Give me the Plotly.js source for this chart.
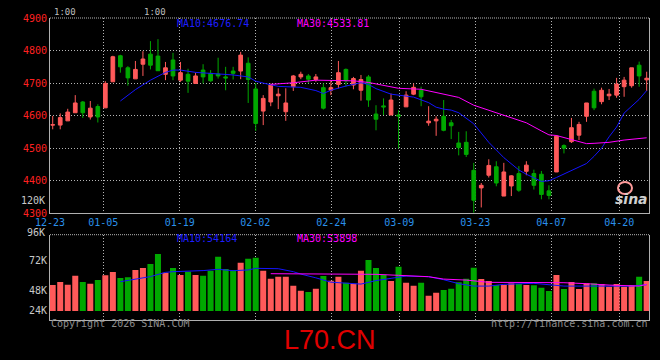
<!DOCTYPE html>
<html>
<head>
<meta charset="utf-8">
<script src="https://cdn.plot.ly/plotly-3.0.1.min.js"></script>
<style>
html,body{margin:0;padding:0;background:#000;}
#chart{width:660px;height:360px;}
</style>
</head>
<body>
<div id="chart"></div>
<script>
// ---- data ----
var openP  = [4571,4571,4584,4609,4642,4596,4628,4624,4704,4784,
              4747,4713,4758,4789,4783,4727,4771,4709,4727,4699,
              4740,4730,4728,4719,4737,4737,4761,4682,4614,4642,
              4661,4612,4689,4719,4722,4711,4686,4678,4696,4742,
              4694,4678,4719,4605,4630,4602,4602,4627,4666,4678,
              4578,4584,4598,4578,4516,4518,4432,4378,4417,4443,
              4353,4384,4422,4429,4422,4420,4369,4427,4508,4520,
              4540,4598,4675,4643,4661,4663,4689,4692,4755,4710];
var highP  = [4599,4607,4621,4663,4645,4645,4635,4706,4784,4787,
              4752,4768,4798,4829,4835,4765,4793,4765,4744,4732,
              4758,4740,4778,4750,4750,4796,4779,4700,4663,4699,
              4684,4684,4725,4735,4728,4728,4699,4709,4768,4745,
              4719,4725,4725,4632,4653,4668,4617,4675,4699,4689,
              4629,4598,4648,4587,4550,4552,4455,4393,4466,4460,
              4455,4417,4445,4460,4434,4430,4386,4540,4512,4593,
              4581,4639,4683,4686,4682,4716,4719,4747,4766,4735];
var lowP   = [4558,4558,4584,4609,4593,4588,4579,4624,4704,4732,
              4692,4713,4722,4742,4738,4709,4709,4704,4670,4699,
              4699,4704,4714,4678,4711,4712,4639,4553,4571,4629,
              4620,4584,4676,4712,4699,4704,4619,4663,4684,4689,
              4681,4646,4627,4555,4602,4602,4499,4627,4663,4629,
              4569,4538,4552,4528,4478,4473,4302,4318,4410,4383,
              4353,4353,4366,4417,4373,4343,4343,4427,4484,4516,
              4525,4581,4617,4635,4648,4655,4658,4686,4689,4676];
var closeP = [4572,4594,4611,4639,4609,4623,4596,4699,4781,4750,
              4716,4742,4774,4755,4738,4747,4722,4732,4706,4722,
              4719,4707,4722,4716,4730,4786,4711,4576,4653,4694,
              4666,4639,4722,4727,4712,4719,4623,4686,4732,4707,
              4714,4711,4648,4589,4627,4648,4599,4663,4687,4658,
              4583,4589,4555,4569,4502,4481,4340,4386,4447,4393,
              4427,4415,4371,4448,4386,4358,4355,4537,4500,4563,
              4573,4639,4624,4678,4666,4697,4709,4747,4722,4715];
// volume in thousands
var volK = [52.2,54.6,52.5,59.7,54.6,53.3,56.2,60.0,62.6,57.8,
            58.4,64.2,65.8,69.0,77.0,62.0,65.8,60.2,62.9,60.2,
            59.7,63.7,74.9,65.0,64.2,70.1,73.3,74.1,63.7,57.3,
            58.9,58.9,51.7,47.7,46.6,49.3,59.4,55.7,58.9,54.1,
            53.3,63.7,72.2,65.8,60.5,55.4,66.9,54.1,51.7,54.1,
            43.7,46.1,48.2,49.3,54.4,57.3,66.1,57.0,55.4,52.2,
            52.2,53.6,53.0,52.2,52.0,50.1,47.4,60.2,49.0,54.6,
            49.0,53.6,53.6,53.0,50.9,53.0,50.9,52.0,58.9,55.4];
// moving average lines as read (candle index, value)
var ma10Idx = [9,11,13,15,16,17,19,21,23,24,26,27,28,30,33,35,36,37,39,41,42,43,45,47,48,50,51,52,53,54,56,58,60,62,63,65,66,67,69,71,72,73,74,75,76,77,78,79];
var ma10Val = [4645,4680,4709,4733,4740,4740,4733,4730,4726,4725,4719,4706,4700,4690,4687,4677,4668,4678,4691,4701,4696,4683,4666,4660,4657,4640,4626,4620,4617,4609,4575,4518,4471,4433,4420,4398,4400,4410,4432,4453,4475,4500,4535,4565,4608,4630,4650,4677];
var ma30Idx = [29,32,35,38,40,42,44,46,49,51,52,54,56,58,60,63,65,66,67,69,71,72,74,76,79];
var ma30Val = [4696,4701,4709,4709,4707,4702,4694,4684,4681,4671,4667,4656,4632,4617,4600,4578,4553,4541,4539,4527,4514,4515,4518,4525,4532];
var vma10Idx = [9,11,13,15,16,20,22,24,26,27,30,32,33,35,37,41,43,45,47,50,52,54,56,58,60,64,66,68,72,77,79];
var vma10Val = [54.9,57.1,59.0,62.4,62.9,63.8,64.8,63.7,64.3,65.6,65.3,62.9,61.0,58.0,54.5,53.0,55.8,57.6,59.4,58.9,56.5,53.3,51.4,51.4,52.8,53.6,52.8,51.4,51.4,51.4,52.5];
var vma30Idx = [29,37,43,46,50,52,55,58,63,68,71,74,78,79];
var vma30Val = [61.3,60.8,60.8,60.0,58.9,57.0,56.2,54.4,54.1,54.1,53.3,52.2,51.4,52.8];
// axis ticks
var dateTickIdx = [-0.35,6.73,16.89,26.94,37.05,46.1,56.2,66.3,75.36];
var dateTickText = ['12-23','01-05','01-19','02-02','02-24','03-09','03-23','04-07','04-20'];
var priceTicks = [4300,4400,4500,4600,4700,4800,4900];
var volTickVals = [72,48,32];
var volTickText = ['72K','48K','24K'];
var volGridVals = [44.4,60.2,76.2];
var volBase = 31.4;
var maText = ['MA10:4676.74','MA30:4533.81'];
var vmaText = ['MA10:54164','MA30:53898'];

// ---- styles ----
var RED = '#ff5a5a', GREEN = '#00a800', GRID = '#b4b4b4', AXIS = '#b0b0b0';
var MONO = 'DejaVu Sans Mono';
var idx = openP.map(function(_, i){ return i; });
var volColors = idx.map(function(i){ return closeP[i] >= openP[i] ? RED : GREEN; });

var traces = [
  {type:'candlestick', x:idx, open:openP, high:highP, low:lowP, close:closeP,
   xaxis:'x', yaxis:'y', whiskerwidth:0,
   increasing:{line:{color:RED,width:1}, fillcolor:RED},
   decreasing:{line:{color:GREEN,width:1}, fillcolor:GREEN},
   hoverinfo:'skip'},
  {type:'scatter', mode:'lines', x:ma10Idx, y:ma10Val, xaxis:'x', yaxis:'y',
   line:{color:'#1414ff', width:1}, hoverinfo:'skip'},
  {type:'scatter', mode:'lines', x:ma30Idx, y:ma30Val, xaxis:'x', yaxis:'y',
   line:{color:'#ff00ff', width:1}, hoverinfo:'skip'},
  {type:'bar', x:idx, y:volK.map(function(v){ return v - volBase; }), base:volBase,
   xaxis:'x2', yaxis:'y2', marker:{color:volColors, line:{width:0}}, hoverinfo:'skip'},
  {type:'scatter', mode:'lines', x:vma10Idx, y:vma10Val, xaxis:'x2', yaxis:'y2',
   line:{color:'#1414ff', width:1}, hoverinfo:'skip'},
  {type:'scatter', mode:'lines', x:vma30Idx, y:vma30Val, xaxis:'x2', yaxis:'y2',
   line:{color:'#ff00ff', width:1}, hoverinfo:'skip'}
];

var xr = [-0.36, 79.35];
var xDom = [50/660, 649.3/660];
function py(p){ return (360 - p) / 360; }
function px(p){ return p / 660; }

var layout = {
  width:660, height:360,
  margin:{l:0, r:0, t:0, b:0},
  paper_bgcolor:'#000', plot_bgcolor:'#000',
  showlegend:false, hovermode:false, bargap:0.2, boxgap:0.3,
  xaxis:{domain:xDom, range:xr, tickmode:'array', tickvals:dateTickIdx, ticktext:dateTickText,
    showgrid:true, gridcolor:GRID, griddash:'1px,2px', gridwidth:1, zeroline:false,
    showline:true, linecolor:AXIS, linewidth:1, ticks:'', rangeslider:{visible:false},
    tickfont:{family:MONO, size:10, color:'#2a90ea'}, anchor:'y', fixedrange:true},
  yaxis:{domain:[py(213.3), py(18)], range:[4300, 4900], tickmode:'array', tickvals:priceTicks,
    ticktext:priceTicks.map(String), showgrid:true, gridcolor:GRID, griddash:'1px,2px',
    zeroline:false, showline:true, linecolor:AXIS, linewidth:1, mirror:true, ticks:'',
    tickfont:{family:MONO, size:10, color:'#ff2020'}, anchor:'x', fixedrange:true},
  xaxis2:{domain:xDom, range:xr, tickmode:'array', tickvals:dateTickIdx, showticklabels:false,
    showgrid:true, gridcolor:GRID, griddash:'1px,2px', zeroline:false,
    showline:true, linecolor:AXIS, linewidth:1, ticks:'', anchor:'y2', fixedrange:true},
  yaxis2:{domain:[py(319.7), py(234.7)], range:[24.5, 92.5], tickmode:'array', tickvals:volTickVals,
    ticktext:volTickText, showgrid:false, zeroline:false, showline:true, linecolor:AXIS,
    linewidth:1, mirror:true, ticks:'', tickfont:{family:MONO, size:10, color:'#c8c8c8'},
    anchor:'x2', fixedrange:true},
  yaxis3:{domain:[py(319.7), py(234.7)], range:[24.5, 92.5], overlaying:'y2', anchor:'x2',
    tickmode:'array', tickvals:volGridVals, showticklabels:false, showgrid:true,
    gridcolor:GRID, griddash:'1px,2px', zeroline:false, showline:false, ticks:'', fixedrange:true},
  shapes:[
    {type:'line', xref:'x domain', yref:'y domain', x0:0, x1:1, y0:1, y1:1,
     line:{color:GRID, width:1, dash:'1px,1px'}},
    {type:'line', xref:'x2 domain', yref:'y2 domain', x0:0, x1:1, y0:1, y1:1,
     line:{color:GRID, width:1, dash:'1px,1px'}},
    {type:'circle', xref:'paper', yref:'paper', x0:px(618), x1:px(632), y0:py(194), y1:py(182),
     line:{color:'#ff9c9c', width:2}}
  ],
  annotations:[
    {text:maText[0], xref:'paper', yref:'paper', x:px(175), y:py(24), xanchor:'left', yanchor:'middle',
     showarrow:false, font:{family:MONO, size:10, color:'#1e1eff'}},
    {text:maText[1], xref:'paper', yref:'paper', x:px(295), y:py(24), xanchor:'left', yanchor:'middle',
     showarrow:false, font:{family:MONO, size:10, color:'#ff00ff'}},
    {text:vmaText[0], xref:'paper', yref:'paper', x:px(175), y:py(238.5), xanchor:'left', yanchor:'middle',
     showarrow:false, font:{family:MONO, size:10, color:'#1e1eff'}},
    {text:vmaText[1], xref:'paper', yref:'paper', x:px(295), y:py(238.5), xanchor:'left', yanchor:'middle',
     showarrow:false, font:{family:MONO, size:10, color:'#ff00ff'}},
    {text:'1:00', xref:'paper', yref:'paper', x:px(52), y:py(12), xanchor:'left', yanchor:'middle',
     showarrow:false, font:{family:MONO, size:9, color:'#bdbdbd'}},
    {text:'1:00', xref:'paper', yref:'paper', x:px(142), y:py(12), xanchor:'left', yanchor:'middle',
     showarrow:false, font:{family:MONO, size:9, color:'#bdbdbd'}},
    {text:'120K', xref:'paper', yref:'paper', x:px(46.5), y:py(200), xanchor:'right', yanchor:'middle',
     showarrow:false, font:{family:MONO, size:10, color:'#c8c8c8'}},
    {text:'96K', xref:'paper', yref:'paper', x:px(46.5), y:py(232.5), xanchor:'right', yanchor:'middle',
     showarrow:false, font:{family:MONO, size:10, color:'#c8c8c8'}},
    {text:'Copyright 2026 SINA.COM', xref:'paper', yref:'paper', x:px(49), y:py(323.5), xanchor:'left', yanchor:'middle',
     showarrow:false, font:{family:MONO, size:10, color:'#8c8c8c'}},
    {text:'http://finance.sina.com.cn', xref:'paper', yref:'paper', x:px(650), y:py(323.5), xanchor:'right', yanchor:'middle',
     showarrow:false, font:{family:MONO, size:10, color:'#8c8c8c'}},
    {text:'L70.CN', xref:'paper', yref:'paper', x:px(329.5), y:py(339.5), xanchor:'center', yanchor:'middle',
     showarrow:false, font:{family:'Liberation Sans', size:27, color:'#e00000'}},
    {text:'<b><i>sina</i></b>', xref:'paper', yref:'paper', x:px(631), y:py(199), xanchor:'center', yanchor:'middle',
     showarrow:false, font:{family:'DejaVu Sans', size:14, color:'#d0d0d0'}}
  ]
};

Plotly.newPlot('chart', traces, layout, {staticPlot:true, displayModeBar:false});
</script>
</body>
</html>
